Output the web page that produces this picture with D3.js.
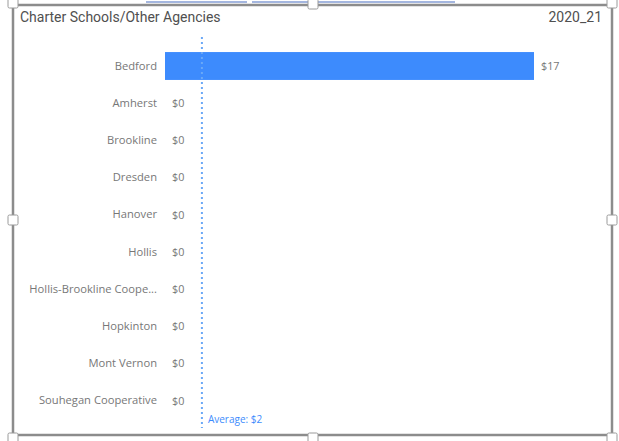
<!DOCTYPE html>
<html>
<head>
<meta charset="utf-8">
<script src="https://cdn.jsdelivr.net/npm/d3@7"></script>
<style>
  html, body { margin: 0; padding: 0; background: #ffffff; }
  svg { display: block; }
</style>
</head>
<body>
<svg id="chart" width="619" height="441"></svg>
<script>
// Spending per district, fiscal year 2020_21
const categories = ["Bedford", "Amherst", "Brookline", "Dresden", "Hanover", "Hollis",
  "Hollis-Brookline Cooperative", "Hopkinton", "Mont Vernon", "Souhegan Cooperative"];
const values = [17, 0, 0, 0, 0, 0, 0, 0, 0, 0];
const title = "Charter Schools/Other Agencies";
const yearLabel = "2020_21";

const svg = d3.select("#chart");
const font = "'Open Sans', 'Noto Sans', sans-serif";

// visual container frame with selection handles
const frame = { left: 13, top: 5, right: 612, bottom: 435 };
svg.append("rect")
  .attr("x", frame.left).attr("y", frame.top)
  .attr("width", frame.right - frame.left).attr("height", frame.bottom - frame.top)
  .attr("fill", "#fff").attr("stroke", "#8c8c8c").attr("stroke-width", 2.5);

// clipped link underline peeking above the frame
svg.append("g").attr("stroke", "#4a6fc0").attr("stroke-width", 1.2)
  .selectAll("line").data([[146, 247], [252, 455]]).join("line")
  .attr("x1", d => d[0]).attr("x2", d => d[1]).attr("y1", 2).attr("y2", 2);

const handles = [
  [frame.left, frame.top - 2], [313, frame.top - 1], [frame.right, frame.top - 2],
  [frame.left, 220], [frame.right, 220],
  [frame.left, frame.bottom + 3], [313, frame.bottom + 3], [frame.right, frame.bottom + 3]
];
svg.append("g").selectAll("rect").data(handles).join("rect")
  .attr("x", d => d[0] - 5).attr("y", d => d[1] - 5)
  .attr("width", 10).attr("height", 10).attr("rx", 1.5)
  .attr("fill", "#fff").attr("stroke", "#9a9a9a").attr("stroke-width", 1);

// title and year
svg.append("text").attr("x", 20).attr("y", 22)
  .attr("font-family", "'Liberation Sans Narrow', Roboto, sans-serif").attr("font-size", 14)
  .attr("fill", "#505050").text(title);
svg.append("text").attr("x", 602).attr("y", 22).attr("text-anchor", "end")
  .attr("font-family", "'Liberation Sans Narrow', Roboto, sans-serif").attr("font-size", 14)
  .attr("fill", "#505050").text(yearLabel);

// scales
const x = d3.scaleLinear().domain([0, 17]).range([165, 534]);
const y = d3.scaleBand().domain(categories).range([47.4, 419.4])
  .paddingInner(0.25).paddingOuter(0.125);

const money = v => "$" + d3.format(",.0f")(v);

// category axis (labels only)
const yAxis = svg.append("g").attr("transform", `translate(${x(0) - 8},0)`)
  .call(d3.axisLeft(y).tickSize(0).tickPadding(0)
    .tickFormat(d => d.length > 23 ? d.slice(0, 22) + "..." : d));
yAxis.select(".domain").remove();
yAxis.selectAll("text").attr("font-family", font).attr("font-size", 11.2)
  .attr("fill", "#777");

// bars
const data = categories.map((c, i) => ({ c, v: values[i] }));
svg.append("g").selectAll("rect").data(data).join("rect")
  .attr("x", x(0)).attr("y", d => y(d.c))
  .attr("width", d => x(d.v) - x(0)).attr("height", y.bandwidth())
  .attr("fill", "#3d8bfd");

// data labels
svg.append("g").selectAll("text").data(data).join("text")
  .attr("x", d => x(d.v) + 7).attr("y", d => y(d.c) + y.bandwidth() / 2)
  .attr("dy", "0.35em")
  .attr("font-family", font).attr("font-size", 10.8).attr("fill", "#777")
  .text(d => money(d.v));

// average reference line
const avg = d3.mean(values);
svg.append("line")
  .attr("x1", x(avg)).attr("x2", x(avg)).attr("y1", 37).attr("y2", 428)
  .attr("stroke", "#6aa8f7").attr("stroke-width", 2)
  .attr("stroke-dasharray", "2,3");
svg.append("text").attr("x", x(avg) + 6).attr("y", 423)
  .attr("font-family", font).attr("font-size", 10).attr("fill", "#3d8bfd")
  .text("Average: " + money(avg));
</script>
</body>
</html>
